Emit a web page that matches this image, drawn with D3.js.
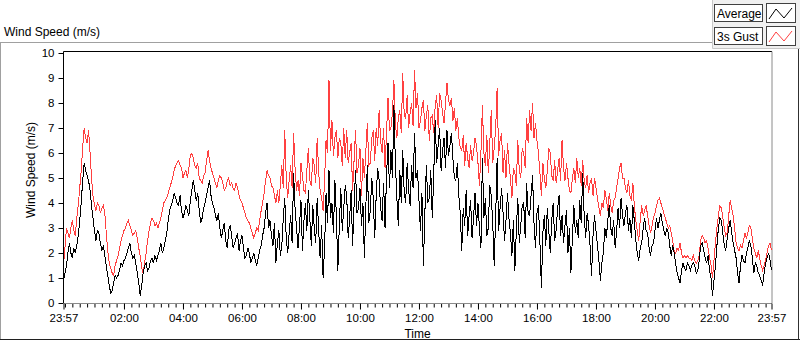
<!DOCTYPE html>
<html>
<head>
<meta charset="utf-8">
<script src="https://cdn.jsdelivr.net/npm/d3@7"></script>
<style>
  html, body { margin: 0; padding: 0; background: #fff; }
  svg { display: block; }
  text { font-family: "Liberation Sans", Arial, sans-serif; }
</style>
</head>
<body>
<svg id="chart" width="800" height="342"></svg>
<script>
// ---- data (3-minute samples from 23:57 to 23:57 next day) ----
const chartTitle = "Wind Speed (m/s)";
const yTitle = "Wind Speed (m/s)";
const xTitle = "Time";
const seriesNames = ["Average", "3s Gust"];
const yTicks = [0, 1, 2, 3, 4, 5, 6, 7, 8, 9, 10];
const xTickHours = [2, 4, 6, 8, 10, 12, 14, 16, 18, 20, 22];
const sampleMinutes = 3;

const average = [
  0.9,1.2, 1.5,2.0, 2.4,2.0, 1.8,2.2, 2.0,2.3, 2.7,3.3, 4.0,4.9, 5.6,5.3, 5.1,4.9, 4.5,3.9,
  3.4,2.9, 2.5,2.9, 2.8,2.4, 2.1,2.3, 1.9,1.5, 1.1,0.7, 0.4,0.5, 0.8,1.1, 1.0,1.1, 1.3,1.6,
  1.5,1.7, 1.8,2.0, 2.2,2.4, 2.0,1.8, 1.9,1.6, 1.2,0.8, 0.3,0.7, 1.2,1.5, 1.6,1.3, 1.4,1.7,
  1.8,1.6, 1.9,1.7, 1.9,2.1, 2.4,2.0, 2.2,2.5, 2.8,3.3, 3.7,3.9, 4.1,4.4, 4.2,4.0, 3.9,4.3,
  3.7,3.4, 3.6,3.9, 3.7,3.5, 4.1,4.5, 4.9,4.5, 4.1,4.4, 3.7,3.2, 3.4,3.8, 4.0,4.3, 4.6,4.9,
  4.3,4.0, 3.8,3.5, 3.3,3.6, 3.0,2.6, 2.9,3.2, 2.5,2.2, 2.9,3.1, 2.7,2.2, 2.4,2.6, 2.8,2.1,
  2.5,2.7, 2.2,1.8, 1.9,2.2, 2.0,1.6, 1.8,2.0, 1.7,1.5, 1.8,2.1, 2.3,2.7, 3.0,3.6, 4.0,3.0,
  3.3,2.7, 2.3,3.2, 1.6,2.4, 2.9,1.9, 2.3,3.4, 4.2,2.6, 2.0,2.8, 3.5,2.4, 5.2,3.8, 3.0,2.2,
  3.1,4.1, 2.1,3.3, 4.0,2.9, 4.5,3.4, 2.3,3.9, 3.0,2.4, 4.2,2.9, 1.8,3.1, 1.0,2.2, 4.4,3.2,
  5.3,3.4, 4.0,2.8, 4.9,3.5, 1.3,3.1, 4.6,2.9, 3.8,4.7, 4.3,2.6, 3.4,4.5, 2.3,3.9, 5.3,3.6,
  3.8,4.6, 3.1,4.0, 1.8,3.9, 5.5,3.2, 3.7,5.0, 4.2,2.6, 4.3,5.4, 4.9,3.8, 3.3,4.8, 3.0,5.1,
  6.4,4.6, 6.1,5.0, 7.9,5.6, 4.2,3.1, 5.3,4.0, 6.1,4.4, 4.0,5.6, 4.5,3.9, 5.5,4.6, 6.8,5.0,
  5.3,4.1, 2.9,4.4, 1.5,3.6, 5.5,4.0, 4.2,5.3, 3.4,5.1, 7.3,5.6, 6.3,7.0, 5.3,6.1, 6.6,5.4,
  6.9,5.9, 6.3,6.8, 5.8,5.0, 4.9,5.6, 4.3,3.6, 2.1,3.8, 3.1,4.5, 2.7,3.5, 4.1,2.6, 3.4,4.4,
  3.1,4.0, 3.0,2.2, 5.8,3.4, 4.2,2.7, 3.0,4.7, 4.3,3.2, 1.5,3.5, 5.8,2.9, 3.8,4.6, 3.6,2.5,
  3.3,4.4, 3.4,2.8, 1.9,3.3, 1.3,2.9, 4.2,2.4, 3.1,3.9, 4.0,2.6, 4.8,3.6, 3.5,4.3, 5.1,3.2,
  2.2,3.6, 3.9,2.4, 0.6,2.8, 3.5,2.3, 3.8,2.9, 2.0,3.3, 4.0,2.5, 2.9,3.8, 4.3,2.7, 3.5,2.4,
  3.1,3.7, 2.0,3.0, 1.2,2.6, 3.9,2.8, 3.3,2.6, 4.1,3.2, 5.2,3.5, 2.6,3.6, 3.1,2.3, 1.1,2.7,
  3.5,2.9, 2.3,1.7, 0.9,1.6, 2.0,3.0, 2.6,3.3, 3.9,3.0, 2.7,3.3, 2.2,2.9, 3.8,3.0, 4.2,3.5,
  3.1,3.6, 3.9,2.9, 3.4,2.6, 3.9,3.3, 2.5,2.0, 1.7,2.2, 2.4,3.0, 3.4,2.9, 2.8,2.2, 1.9,2.3,
  2.4,2.9, 3.4,3.0, 3.3,3.6, 3.2,2.9, 2.7,3.0, 2.8,2.3, 1.9,2.3, 2.0,1.6, 1.2,1.0, 0.8,1.3,
  1.6,1.4, 1.3,1.6, 1.5,1.3, 1.5,1.6, 1.5,1.2, 1.3,1.7, 2.3,2.4, 2.1,1.8, 1.6,1.9, 1.3,1.0,
  0.3,0.9, 1.5,2.3, 3.0,3.4, 3.3,2.8, 2.3,2.1, 2.6,3.0, 3.3,2.8, 2.4,2.1, 1.8,1.2, 0.8,1.5,
  1.9,1.7, 1.6,2.0, 2.2,2.5, 2.3,1.8, 1.2,1.6, 1.5,1.2, 1.1,0.9, 0.7,1.2, 1.6,1.8, 2.0,1.7, 1.3
];

const gust = [
  1.5,2.2, 3.0,2.8, 2.6,3.0, 3.3,2.9, 2.7,3.4, 3.9,4.6, 5.3,6.2, 7.0,6.6, 6.4,6.9, 6.0,5.0,
  4.3,3.9, 3.7,4.0, 3.9,3.6, 3.8,3.9, 3.6,2.8, 2.1,1.6, 1.4,1.2, 1.1,1.5, 1.7,1.9, 2.2,2.5,
  2.7,2.9, 3.0,3.2, 3.3,3.1, 2.9,2.7, 2.8,2.9, 2.6,2.2, 1.9,1.4, 1.2,1.6, 2.0,2.5, 2.9,3.2,
  3.4,3.3, 3.1,3.2, 3.0,3.2, 3.4,3.7, 4.0,4.1, 4.2,4.4, 4.6,4.8, 5.0,5.3, 5.5,5.6, 5.7,5.5,
  5.4,5.0, 5.2,5.3, 5.0,5.4, 5.9,6.0, 5.8,5.5, 5.4,5.6, 5.0,4.9, 4.8,5.1, 5.2,5.7, 6.1,5.7,
  5.4,5.2, 5.0,4.8, 4.6,4.9, 5.1,5.0, 4.8,4.5, 4.6,4.9, 5.0,4.7, 4.8,4.6, 4.5,4.8, 4.6,4.3,
  4.1,4.0, 3.8,3.6, 3.4,3.3, 3.2,3.0, 2.8,2.6, 2.8,3.0, 2.9,3.3, 3.7,4.0, 4.4,4.9, 5.3,5.1,
  5.0,4.7, 4.6,4.3, 4.0,4.5, 4.0,4.7, 5.5,4.6, 6.9,5.0, 4.2,4.9, 5.5,4.6, 6.8,5.4, 4.5,4.9,
  4.3,5.6, 5.1,4.5, 4.4,5.3, 6.2,4.9, 4.7,5.8, 5.5,4.8, 6.6,5.2, 4.5,4.2, 3.7,4.9, 6.5,6.0,
  8.9,6.1, 7.3,5.9, 6.6,6.9, 5.8,6.6, 6.4,5.5, 7.0,5.8, 6.9,5.6, 6.0,6.4, 4.5,5.7, 6.9,5.2,
  5.5,6.2, 4.3,5.8, 5.0,6.1, 7.2,5.5, 5.6,6.6, 6.9,5.7, 7.0,6.3, 7.7,6.5, 6.0,7.0, 5.4,6.8,
  8.2,6.9, 7.0,7.6, 8.9,7.2, 6.6,7.4, 7.7,6.8, 9.2,7.5, 7.4,8.3, 7.0,7.6, 8.0,7.1, 9.3,7.8,
  8.4,7.0, 7.3,7.8, 8.1,6.9, 7.5,7.9, 6.5,7.4, 7.5,6.8, 7.9,8.3, 7.0,8.4, 8.1,7.6, 7.2,8.0,
  8.8,8.1, 7.9,8.2, 7.3,7.8, 6.9,7.4, 6.6,6.2, 6.1,6.7, 5.5,6.4, 5.8,5.4, 6.3,5.7, 6.0,6.6,
  6.3,5.6, 4.7,6.0, 7.9,6.0, 5.5,6.7, 5.2,6.4, 7.7,5.6, 6.2,7.0, 8.6,5.9, 6.5,6.8, 5.2,6.1,
  5.0,6.4, 5.6,5.0, 4.2,5.4, 5.2,4.7, 6.5,5.3, 5.0,6.2, 6.0,5.4, 7.4,6.4, 7.7,6.9, 8.0,6.6,
  7.2,6.5, 6.0,5.2, 4.3,5.6, 5.0,4.6, 5.3,6.2, 6.0,5.1, 4.9,5.7, 4.8,5.3, 5.8,4.9, 6.5,5.4,
  4.9,5.6, 5.0,4.5, 4.4,5.0, 5.4,4.8, 5.8,5.0, 5.4,4.7, 5.7,4.9, 4.6,5.1, 4.4,4.8, 5.0,4.3,
  5.0,4.6, 4.2,3.8, 3.5,4.0, 3.8,4.5, 4.2,3.7, 4.4,3.9, 3.6,4.1, 4.2,4.6, 5.0,5.4, 5.6,5.0,
  5.0,4.6, 4.4,4.9, 4.3,4.1, 4.8,3.9, 3.3,2.9, 2.5,3.3, 3.9,3.5, 3.7,3.9, 3.5,3.1, 2.8,3.1,
  3.4,3.6, 3.9,4.1, 4.2,4.0, 3.8,3.6, 3.4,3.2, 3.0,3.1, 2.8,2.5, 2.1,2.0, 2.2,2.1, 2.4,2.0,
  1.8,1.9, 1.8,1.9, 1.8,1.8, 1.7,1.9, 1.7,1.6, 1.7,1.9, 2.5,2.7, 2.6,2.4, 2.5,2.2, 1.8,1.5,
  1.0,1.7, 2.4,3.0, 3.5,3.9, 3.8,3.4, 3.0,2.7, 2.8,3.5, 4.1,3.8, 3.5,3.0, 2.4,2.2, 2.1,2.3,
  2.2,2.5, 2.8,2.6, 2.8,3.1, 3.0,2.6, 2.2,2.0, 1.8,2.1, 1.8,1.5, 1.3,1.5, 1.7,2.0, 2.3,2.4, 2.1
];

// ---- layout ----
const svg = d3.select("#chart");
const plot = { left: 63.5, right: 771.5, top: 53, bottom: 303 };

const t0 = new Date(2021, 0, 1, 23, 57);
const t1 = new Date(2021, 0, 2, 23, 57);
const times = average.map((_, i) => d3.timeMinute.offset(t0, i * sampleMinutes));

const x = d3.scaleTime().domain([t0, t1]).range([plot.left, plot.right]);
const y = d3.scaleLinear().domain([0, 10]).range([plot.bottom, plot.top]);

// outer frame
svg.append("line").attr("x1", 0).attr("x2", 712).attr("y1", 42.5).attr("y2", 42.5)
  .attr("stroke", "#a0a0a0");
svg.append("line").attr("x1", 0.5).attr("x2", 0.5).attr("y1", 42).attr("y2", 340)
  .attr("stroke", "#a0a0a0");
svg.append("line").attr("x1", 0).attr("x2", 800).attr("y1", 339.5).attr("y2", 339.5)
  .attr("stroke", "#202020");
svg.append("line").attr("x1", 798.5).attr("x2", 798.5).attr("y1", 48).attr("y2", 340)
  .attr("stroke", "#303030");

// chart title
svg.append("text").attr("x", 4).attr("y", 36).attr("font-size", 12).attr("fill", "#000")
  .text(chartTitle);

// plot border (top/right)
svg.append("line").attr("x1", plot.left).attr("x2", plot.right + 0.5)
  .attr("y1", 51.5).attr("y2", 51.5).attr("stroke", "#000");
svg.append("line").attr("x1", plot.right + 0.5).attr("x2", plot.right + 0.5)
  .attr("y1", 51.5).attr("y2", plot.bottom).attr("stroke", "#8a8a8a");

// series
const line = d3.line().x((d, i) => x(times[i])).y(d => y(d));
svg.append("path").datum(gust).attr("d", line).attr("fill", "none")
  .attr("stroke", "#ff4040").attr("stroke-width", 1).attr("shape-rendering", "crispEdges");
svg.append("path").datum(average).attr("d", line).attr("fill", "none")
  .attr("stroke", "#000").attr("stroke-width", 1).attr("shape-rendering", "crispEdges");

// y axis
const yAxis = svg.append("g").attr("transform", `translate(${plot.left},0)`)
  .call(d3.axisLeft(y).tickValues(yTicks).tickSize(5).tickPadding(4).tickFormat(d3.format("d")));
yAxis.select(".domain").attr("d", `M0,51.5V${plot.bottom}`).attr("stroke", "#000");
yAxis.selectAll(".tick line").attr("stroke", "#000");
yAxis.selectAll("text").attr("font-size", 11.5).attr("fill", "#000")
  .attr("font-family", "Liberation Sans, Arial, sans-serif");

// x axis: minor ticks every 15 min
const minorTicks = d3.timeMinute.every(15).range(d3.timeMinute.offset(t0, 3), t1);
const xMinor = svg.append("g").attr("transform", `translate(0,${plot.bottom + 0.5})`)
  .call(d3.axisBottom(x).tickValues(minorTicks).tickSize(4).tickFormat(""));
xMinor.select(".domain").remove();
xMinor.selectAll(".tick line").attr("stroke", "#000");

// x axis: major ticks and labels
const majorTicks = [t0].concat(xTickHours.map(h => new Date(2021, 0, 2, h, 0))).concat([t1]);
const fmt = d3.timeFormat("%H:%M");
const xMajor = svg.append("g").attr("transform", `translate(0,${plot.bottom + 0.5})`)
  .call(d3.axisBottom(x).tickValues(majorTicks).tickSize(6).tickPadding(4).tickFormat(fmt));
xMajor.select(".domain").attr("d", `M${plot.left},0H${plot.right + 0.5}`).attr("stroke", "#8a8a8a");
xMajor.selectAll(".tick line").attr("stroke", "#000");
xMajor.selectAll("text").attr("font-size", 11.5).attr("fill", "#000")
  .attr("font-family", "Liberation Sans, Arial, sans-serif");

// axis titles
svg.append("text").attr("transform", "translate(35,170) rotate(-90)")
  .attr("text-anchor", "middle").attr("font-size", 12).attr("fill", "#000").text(yTitle);
svg.append("text").attr("x", (plot.left + plot.right) / 2).attr("y", 338)
  .attr("text-anchor", "middle").attr("font-size", 12).attr("fill", "#000").text(xTitle);

// legend panel
const lg = svg.append("g");
lg.append("rect").attr("x", 712).attr("y", 0).attr("width", 88).attr("height", 48)
  .attr("fill", "#f0f0f0");
lg.append("line").attr("x1", 712.5).attr("x2", 712.5).attr("y1", 0).attr("y2", 48.5)
  .attr("stroke", "#c8c8c8");
lg.append("line").attr("x1", 712.5).attr("x2", 800).attr("y1", 48.5).attr("y2", 48.5)
  .attr("stroke", "#c8c8c8");
const colors = ["#000", "#ff4040"];
seriesNames.forEach((name, i) => {
  const top = 4 + i * 23;
  lg.append("rect").attr("x", 714.5).attr("y", top + 0.5).attr("width", 48).attr("height", 17)
    .attr("fill", "#fff").attr("stroke", "#404040");
  lg.append("text").attr("x", 717).attr("y", top + 13.5).attr("font-size", 12)
    .attr("fill", "#000").text(name);
  lg.append("rect").attr("x", 766.5).attr("y", top - 0.5).attr("width", 29).attr("height", 19)
    .attr("fill", "#fff").attr("stroke", "#404040");
  lg.append("polyline")
    .attr("points", `${769},${top + 15} ${776},${top + 5} ${784},${top + 14} ${792},${top + 4}`)
    .attr("fill", "none").attr("stroke", colors[i]).attr("stroke-width", 1);
});
</script>
</body>
</html>
